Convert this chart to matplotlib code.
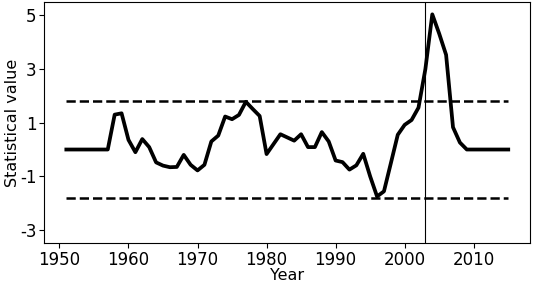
import matplotlib
matplotlib.use('Agg')
import matplotlib.pyplot as plt

years = list(range(1951, 2016))
values = [0, 0, 0, 0, 0, 0, 0,
          1.30, 1.35, 0.36, -0.10, 0.39, 0.09, -0.48, -0.60, -0.66, -0.65,
          -0.20, -0.57, -0.78, -0.57, 0.30, 0.52, 1.23, 1.13, 1.29, 1.78,
          1.51, 1.25, -0.17, 0.20, 0.57, 0.45, 0.33, 0.57, 0.09, 0.09,
          0.65, 0.30, -0.41, -0.47, -0.75, -0.59, -0.16, -1.00, -1.75, -1.56,
          -0.51, 0.55, 0.92, 1.10, 1.56, 3.00, 5.04, 4.32, 3.53, 0.83,
          0.26, 0, 0, 0, 0, 0, 0, 0]
critical = 1.8
change_year = 2003
yticks = [-3, -1, 1, 3, 5]

fig = plt.figure(figsize=(5.33, 2.85), dpi=100)
ax = fig.add_subplot(111)
fig.subplots_adjust(left=0.083, right=0.995, top=0.993, bottom=0.146)

ax.plot(years, values, color='black', linewidth=2.7)
ax.plot(years, [critical] * len(years), 'k--', linewidth=1.8)
ax.plot(years, [-critical] * len(years), 'k--', linewidth=1.8)
ax.axvline(change_year, color='black', linewidth=0.8)

ax.set_ylim(-3.5, 5.5)
ax.set_yticks(yticks)
ax.set_yticklabels([str(t) for t in yticks])
ax.tick_params(labelsize=12, pad=2)
ax.set_xlabel('Year', fontsize=11.5, labelpad=-1)
ax.set_ylabel('Statistical value', fontsize=11.5, labelpad=0)

plt.savefig('out.png', dpi=100)
